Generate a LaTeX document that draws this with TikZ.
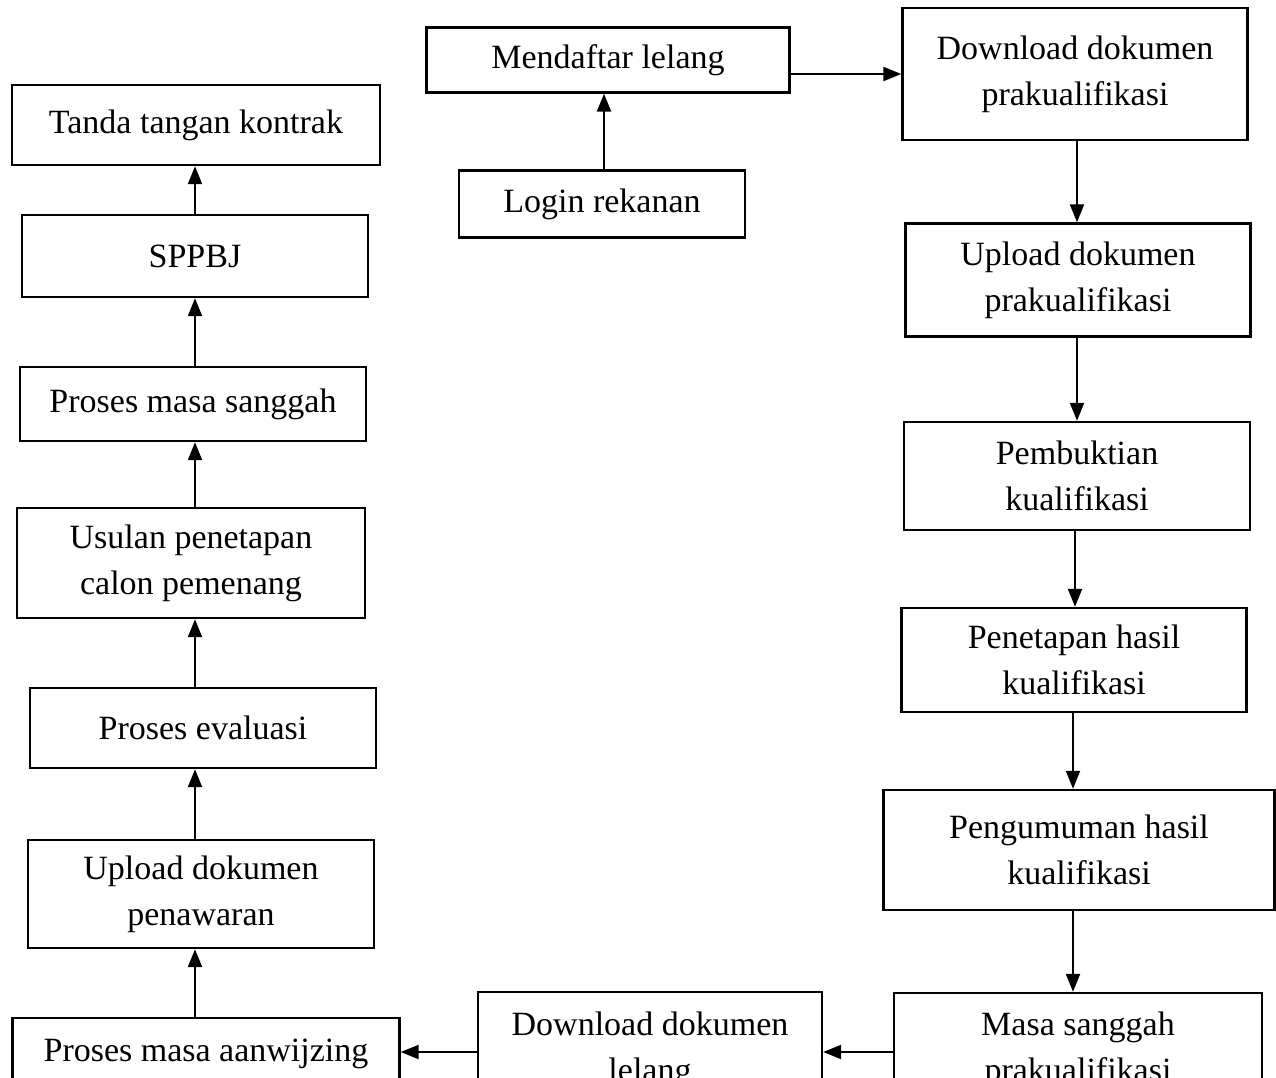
\documentclass[tikz,border=0pt]{standalone}
\usepackage{fontspec}
\setmainfont{Liberation Serif}
\usetikzlibrary{arrows.meta}
\begin{document}
\begin{tikzpicture}
  [x=1pt,y=-1pt,
   box/.style={draw,line width=2.4pt,align=center,inner sep=0pt,
     font=\fontsize{34}{46}\selectfont},
   arr/.style={line width=2.2pt,-{Triangle[length=18pt,width=14pt]}}]
  \useasboundingbox (0,0) rectangle (1276,1078);
  \clip (0,0) rectangle (1276,1078);

  % left column
  \node (ttd) at (196,125) [box,minimum width=368pt,minimum height=80pt] {Tanda tangan kontrak};
  \node (sppbj) at (195,256) [box,minimum width=346pt,minimum height=82pt] {SPPBJ};
  \node (sanggah) at (193,404) [box,minimum width=346pt,minimum height=74pt] {Proses masa sanggah};
  \node (usulan) at (191,563) [box,minimum width=348pt,minimum height=110pt] {Usulan penetapan\\calon pemenang};
  \node (evaluasi) at (203,728) [box,minimum width=346pt,minimum height=80pt] {Proses evaluasi};
  \node (uppen) at (201,894) [box,minimum width=346pt,minimum height=108pt] {Upload dokumen\\penawaran};
  \node (aanwijzing) at (206,1058) [box,minimum width=387pt,minimum height=80pt,text depth=16pt] {Proses masa aanwijzing};

  % middle
  \node (daftar) at (608,60) [box,minimum width=363pt,minimum height=65pt] {Mendaftar lelang};
  \node (login) at (602,204) [box,minimum width=286pt,minimum height=67pt] {Login rekanan};
  \node (dllelang) at (650,1050) [box,minimum width=344pt,minimum height=116pt] {Download dokumen\\lelang};

  % right column
  \node (dlprak) at (1075,74) [box,minimum width=345pt,minimum height=132pt] {Download dokumen\\prakualifikasi};
  \node (upprak) at (1078,280) [box,minimum width=345pt,minimum height=113pt] {Upload dokumen\\prakualifikasi};
  \node (bukti) at (1077,476) [box,minimum width=346pt,minimum height=108pt] {Pembuktian\\kualifikasi};
  \node (tetap) at (1074,660) [box,minimum width=345pt,minimum height=104pt] {Penetapan hasil\\kualifikasi};
  \node (umum) at (1079,850) [box,minimum width=391pt,minimum height=120pt] {Pengumuman hasil\\kualifikasi};
  \node (masa) at (1078,1050) [box,minimum width=368pt,minimum height=114pt] {Masa sanggah\\prakualifikasi};

  \draw [arr] (login.north -| 604,0) to (daftar.south -| 604,0);
  \draw [arr] (daftar.east |- dlprak) to (dlprak.west);
  \draw [arr] (dlprak.south -| 1077,0) to (upprak.north -| 1077,0);
  \draw [arr] (upprak.south -| 1077,0) to (bukti.north -| 1077,0);
  \draw [arr] (bukti.south -| 1075,0) to (tetap.north -| 1075,0);
  \draw [arr] (tetap.south -| 1073,0) to (umum.north -| 1073,0);
  \draw [arr] (umum.south -| 1073,0) to (masa.north -| 1073,0);
  \draw [arr] (masa.west |- 0,1052) to (dllelang.east |- 0,1052);
  \draw [arr] (dllelang.west |- 0,1052) to (aanwijzing.east |- 0,1052);
  \draw [arr] (aanwijzing.north -| sppbj) to (uppen.south -| sppbj);
  \draw [arr] (uppen.north -| sppbj) to (evaluasi.south -| sppbj);
  \draw [arr] (evaluasi.north -| sppbj) to (usulan.south -| sppbj);
  \draw [arr] (usulan.north -| sppbj) to (sanggah.south -| sppbj);
  \draw [arr] (sanggah.north -| sppbj) to (sppbj.south);
  \draw [arr] (sppbj.north) to (ttd.south -| sppbj);
\end{tikzpicture}
\end{document}
